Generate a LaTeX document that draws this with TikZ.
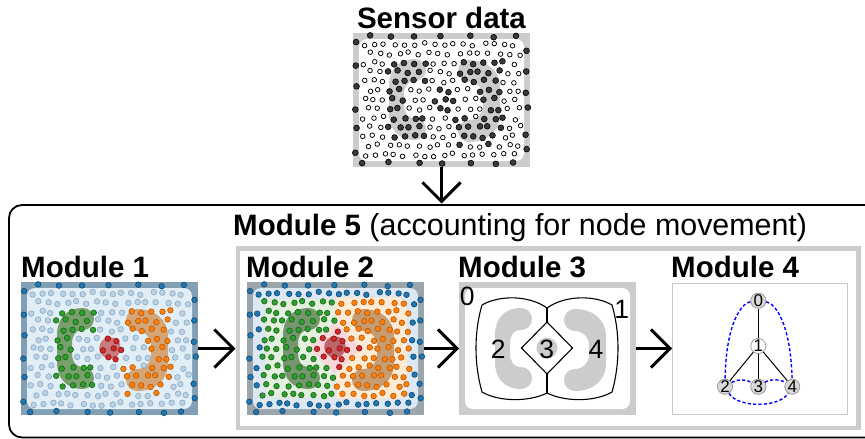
\documentclass[tikz,border=0pt]{standalone}
\usepackage{fontspec}
\setmainfont{Liberation Sans}
\usetikzlibrary{arrows.meta}
\definecolor{gcc}{HTML}{CCCCCC}
\definecolor{mAborder}{HTML}{82A0B5}
\definecolor{mAinner}{HTML}{E1EEF6}
\definecolor{mAgreen}{HTML}{77A06B}
\definecolor{mAorange}{HTML}{D6A575}
\definecolor{mAred}{HTML}{C97A7B}
\definecolor{mBborder}{HTML}{9BA5AC}
\definecolor{mBinner}{HTML}{DCE8F3}
\definecolor{mBgreenreg}{HTML}{E3F0DD}
\definecolor{mBorangereg}{HTML}{FDEBD5}
\definecolor{mBpink}{HTML}{F9D6DA}
\definecolor{mBgreen}{HTML}{74976D}
\definecolor{mBorange}{HTML}{C99C6F}
\definecolor{mBred}{HTML}{BD6569}
\definecolor{tabblue}{HTML}{1F77B4}
\definecolor{tabgreen}{HTML}{2CA02C}
\definecolor{taborange}{HTML}{FF7F0E}
\definecolor{tabred}{HTML}{D62728}
\definecolor{lightdot}{HTML}{B9D2E6}
\definecolor{lightdotedge}{HTML}{8CAAC3}
\definecolor{darkdot}{HTML}{3A3A3A}
\definecolor{graphgray}{HTML}{D9D9D9}
\definecolor{graphedge}{HTML}{9A9A9A}
\definecolor{boxgray}{HTML}{C8C8C8}
\definecolor{dashblue}{HTML}{0000FF}

\tikzset{
  dotbase/.style={line width=0.6pt},
  dotr/.code={\def\dotradius{#1}},
  d0c0/.style={draw=black, fill=white, line width=0.75pt, dotr=2.3},
  d0c1/.style={draw=black, fill=darkdot, line width=0.6pt, dotr=2.9},
  d0c2/.style={d0c1}, d0c3/.style={d0c1}, d0c9/.style={d0c1},
  d1c0/.style={draw=lightdotedge, fill=lightdot, dotbase},
  d1c1/.style={draw=tabgreen!60!black, fill=tabgreen, dotbase},
  d1c2/.style={draw=taborange!70!black, fill=taborange, dotbase},
  d1c3/.style={draw=tabred!60!black, fill=tabred, dotbase},
  d1c9/.style={draw=tabblue!60!black, fill=tabblue, dotbase},
  d2c4/.style={d1c3}, d2c5/.style={d1c1}, d2c6/.style={d1c2},
  d2c7/.style={d1c9}, d2c9/.style={d1c9},
  panel/.style={rectangle, inner sep=0pt, outer sep=0pt, minimum width=177pt,
    minimum height=133pt, anchor=north west},
  titletext/.style={font=\fontsize{29.5}{32}\selectfont\bfseries, inner sep=0pt},
  celldigit/.style={font=\fontsize{26.5}{28}\selectfont, inner sep=0pt},
  cell/.style={draw=black, line width=1.1pt},
  arr/.style={line width=3pt, -{Straight Barb[length=19pt, width=38pt, line cap=butt, line join=miter]}},
  gnode/.style={circle, draw=graphedge, fill=graphgray, line width=0.8pt,
    minimum size=15pt, inner sep=0pt, font=\fontsize{17}{17}\selectfont},
  gwhite/.style={gnode, fill=white},
  gsolid/.style={draw=black, line width=1pt},
  gdash/.style={draw=dashblue, line width=1.4pt, dash pattern=on 3.2pt off 2.2pt},
}
\def\dotradius{2.8}

\newcommand\cblobs[2]{%
  \fill[#1] (62,26) arc[start angle=-90, end angle=90, radius=11]
    .. controls (54,48) and (51,54) .. (51,62) -- (51,71)
    .. controls (51,79) and (54,85) .. (62,85)
    arc[start angle=-90, end angle=90, radius=11]
    .. controls (45,107) and (36,96) .. (36,80) -- (36,53)
    .. controls (36,37) and (45,26) .. (62,26) -- cycle;
  \fill[#2] (116,27) arc[start angle=-90, end angle=-270, radius=11]
    .. controls (124,49) and (130,55) .. (130,63) -- (130,73)
    .. controls (130,81) and (124,87) .. (116,87)
    arc[start angle=-90, end angle=-270, radius=11]
    .. controls (134,109) and (147,98) .. (147,82) -- (147,54)
    .. controls (147,38) and (134,27) .. (116,27) -- cycle;
}

\newcommand\onedot[3]{%
  \begingroup
  \def\dotradius{2.8}%
  \path[#1] (#2,#3) circle[radius=\dotradius];
  \endgroup
}

\newcommand\dotfield[1]{%
  \pgfmathsetseed{4242}%
  \foreach \ri in {0,...,12}{%
    \foreach \ci in {0,...,15}{%
      \pgfmathsetmacro\px{11+\ci*10+mod(\ri,2)*5+1.9*rand}%
      \pgfmathsetmacro\py{11.5+\ri*9.2+1.8*rand}%
      \ifnum#1=2\relax
        \pgfmathtruncatemacro\inD{abs(\px-88)/25.5+abs(\py-66)/26<1}%
        \pgfmathtruncatemacro\inG{and(and(\px<89,\px>15),and(\py>14,\py<118))}%
        \pgfmathtruncatemacro\inO{and(and(\px>88.99,\px<163),and(\py>14,\py<118))}%
        \ifnum\inD=1 \def\cat{4}\else\ifnum\inG=1 \def\cat{5}\else\ifnum\inO=1 \def\cat{6}\else\def\cat{7}\fi\fi\fi
      \else
        \pgfmathtruncatemacro\inL{or(and(and(\px>33,\px<76),or(and(\py>23,\py<51),and(\py>82,\py<110))),and(and(\px>33,\px<54),and(\py>23,\py<110)))}%
        \pgfmathtruncatemacro\inR{or(and(and(\px>102,\px<150),or(and(\py>24,\py<52),and(\py>84,\py<112))),and(and(\px>127,\px<150),and(\py>24,\py<112)))}%
        \pgfmathtruncatemacro\inC{(\px-89)^2+(\py-66)^2<170}%
        \def\cat{0}%
        \ifnum\inL=1 \def\cat{1}\fi
        \ifnum\inR=1 \def\cat{2}\fi
        \ifnum\inC=1 \def\cat{3}\fi
      \fi
      \onedot{d#1c\cat}{\px}{\py}%
    }%
  }%
  \foreach \k in {0,...,6}{%
    \pgfmathsetmacro\bx{13+25*\k+5*rand}\pgfmathsetmacro\by{3.3+1.2*rand}%
    \onedot{d#1c9}{\bx}{\by}%
    \pgfmathsetmacro\bx{11+25.5*\k+5*rand}\pgfmathsetmacro\by{129.7+1.2*rand}%
    \onedot{d#1c9}{\bx}{\by}%
  }%
  \foreach \k in {0,...,5}{%
    \pgfmathsetmacro\by{12+21.5*\k+4*rand}\pgfmathsetmacro\bx{3.3+1.2*rand}%
    \onedot{d#1c9}{\bx}{\by}%
    \pgfmathsetmacro\by{16+20.5*\k+4*rand}\pgfmathsetmacro\bx{173.7+1.2*rand}%
    \onedot{d#1c9}{\bx}{\by}%
  }%
}

\begin{document}
\begin{tikzpicture}[x=1pt,y=-1pt]
\useasboundingbox (0,0) rectangle (865,439);

% outer frame and module 5 frame
\draw[line width=1.8pt, rounded corners=13pt] (9,205) rectangle (905,437.5);
\node[draw=gcc, line width=4.5pt, inner sep=0pt, minimum width=620.5pt, minimum height=179.5pt, anchor=north west] (m5) at (235.5,246) {};

% titles
\node[titletext, anchor=base] (tsens) at (441.5,28.5) {Sensor data};
\node[anchor=base west, inner sep=0pt] (tm5) at (233,235) {\fontsize{29.5}{32}\selectfont\textbf{Module 5}\fontsize{30.4}{32}\selectfont{} (accounting for node movement)};
\node[titletext, anchor=base west] (tm1) at (21,277) {Module 1};
\node[titletext, anchor=base west] (tm2) at (246,277) {Module 2};
\node[titletext, anchor=base west] (tm3) at (458,277) {Module 3};
\node[titletext, anchor=base west] (tm4) at (671,277) {Module 4};

% panel frames (named)
\node[panel, minimum height=134pt] (sens) at (353,33) {};
\node[panel] (m1) at (21,282) {};
\node[panel] (m2) at (247,282) {};
\node[panel] (m3) at (459,282) {};
\node[panel, draw=boxgray, line width=1pt, minimum width=175pt, minimum height=131pt, outer sep=0.5pt] (m4) at (672,283) {};

% sensor data
\begin{scope}[shift={(353,33)}]
  \fill[gcc] (0,0) rectangle (177,134);
  \fill[white, rounded corners=8pt] (6,6) rectangle (171,128);
  \cblobs{gcc}{gcc}
  \dotfield{0}
\end{scope}

% module 1
\begin{scope}[shift={(21,282)}]
  \fill[mAborder] (0,0) rectangle (177,133);
  \fill[mAinner, rounded corners=8pt] (6,6) rectangle (171,127);
  \cblobs{mAgreen}{mAorange}
  \fill[mAred] (89,66) circle[radius=10.8];
  \dotfield{1}
\end{scope}

% module 2
\begin{scope}[shift={(247,282)}]
  \fill[mBborder] (0,0) rectangle (177,133);
  \fill[mBinner, rounded corners=8pt] (6,6) rectangle (171,127);
  \filldraw[fill=mBgreenreg, draw=black!12, line width=0.6pt] (89,17) [rounded corners=9pt] -- (18,17) -- (18,116) [sharp corners] -- (89,116) -- cycle;
  \filldraw[fill=mBorangereg, draw=black!12, line width=0.6pt] (89,15) [rounded corners=9pt] -- (160,15) -- (160,117) [sharp corners] -- (89,117) -- cycle;
  \filldraw[fill=mBpink, draw=black!12, line width=0.6pt] (88,40) -- (113.5,66) -- (88,92) -- (62.5,66) -- cycle;
  \cblobs{mBgreen}{mBorange}
  \fill[mBred] (88,65) circle[radius=10.8];
  \dotfield{2}
\end{scope}

% module 3
\begin{scope}[shift={(459,282)}]
  \fill[gcc] (0,0) rectangle (177,133);
  \fill[white, rounded corners=8pt] (6,6) rectangle (171,127);
  \cblobs{gcc}{gcc}
  \fill[gcc] (88,66) circle[radius=10.5];
  \draw[cell] (88,26) .. controls (70,13) and (40,13) .. (23,23) .. controls (15,50) and (15,82) .. (23,110) .. controls (40,120) and (70,120) .. (88,111);
  \draw[cell] (88,26) .. controls (106,13) and (136,13) .. (153,23) .. controls (161,50) and (161,82) .. (153,110) .. controls (136,120) and (106,120) .. (88,111);
  \draw[cell] (88,26) -- (88,40);
  \draw[cell] (88,92) -- (88,111);
  \draw[cell, line join=miter] (88,40) -- (113.5,66) -- (88,92) -- (62.5,66) -- cycle;
  \node[celldigit] (c0) at (8.3,14) {0};
  \node[celldigit] (c1) at (162.7,27) {1};
  \node[celldigit] (c2) at (39.3,67.7) {2};
  \node[celldigit] (c3) at (87.7,67.7) {3};
  \node[celldigit] (c4) at (137,67.7) {4};
\end{scope}

% module 4 graph
\node[gnode] (n0) at (758.3,300.7) {0};
\node[gwhite] (n1) at (758.3,346) {1};
\node[gnode] (n2) at (725,386.7) {2};
\node[gnode] (n3) at (758.3,386.7) {3};
\node[gnode] (n4) at (792.3,386.7) {4};
\draw[gsolid] (n0) -- (n1);
\draw[gsolid] (n1) -- (n2);
\draw[gsolid] (n1) -- (n3);
\draw[gsolid] (n1) -- (n4);
\draw[gdash] (n0) .. controls (742,303) and (726,322) .. (n2);
\draw[gdash] (n0) .. controls (774.6,303) and (790.6,322) .. (n4);
\draw[gdash] (n2) .. controls (737,379) and (746,379) .. (n3);
\draw[gdash] (n3) .. controls (770,379) and (780,379) .. (n4);
\draw[gdash] (n2) .. controls (738,408) and (779,408) .. (n4);

% arrows
\coordinate (sensend) at (441.5,203.5);
\draw[arr] (sens.south) -- (sensend);
\draw[arr] (m1.east) -- (m1.east -| m5.west);
\draw[arr] (m2.east) -- (m2.east -| m3.west);
\draw[arr] (m3.east) -- (m3.east -| m4.west);
\end{tikzpicture}
\end{document}
